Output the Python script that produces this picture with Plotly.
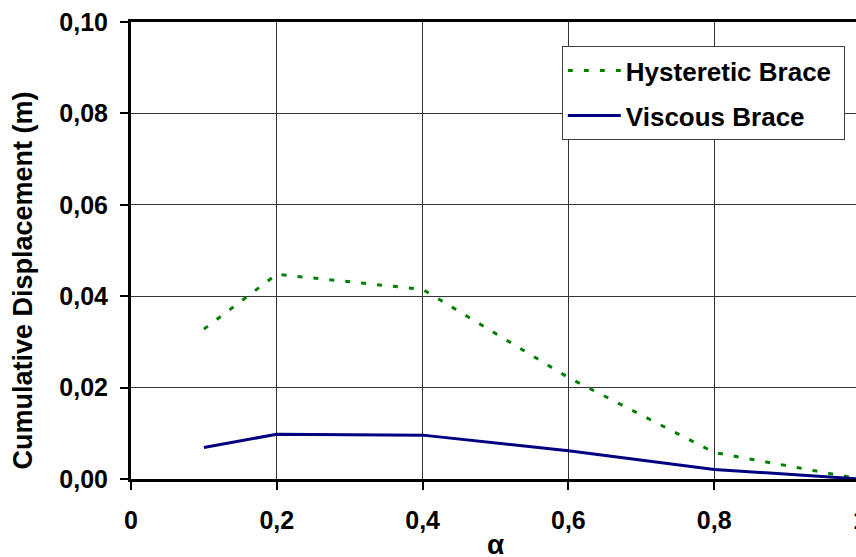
import plotly.graph_objects as go

alpha = [0.1, 0.2, 0.4, 0.6, 0.8, 1.0]
hysteretic = [0.0328, 0.0448, 0.0415, 0.0222, 0.0058, 0.0]
viscous = [0.0069, 0.0098, 0.0096, 0.0062, 0.0021, 0.0]

FONT = "Liberation Sans, Arial, sans-serif"

fig = go.Figure()
fig.add_trace(go.Scatter(
    x=alpha, y=hysteretic, mode="lines", name="Hysteretic Brace\u00a0",
    legendgroup="h",
    line=dict(color="#008000", width=3, dash="5px,11px"),
))
fig.add_trace(go.Scatter(
    x=alpha, y=viscous, mode="lines", name="Viscous Brace",
    legendgroup="v",
    line=dict(color="#000080", width=3),
))

W, H = 880, 557
L, R, T, B = 131, 860, 22, 479
fig.update_layout(
    width=W, height=H,
    margin=dict(l=L, r=W - R, t=T, b=H - B, pad=0, autoexpand=False),
    paper_bgcolor="white", plot_bgcolor="white",
    separators=", ",
    font=dict(family=FONT, size=25, color="black", weight="bold"),
    showlegend=True,
    legend=dict(
        x=0.591, y=0.947, xanchor="left", yanchor="top",
        bgcolor="white", bordercolor="#404040", borderwidth=1,
        font=dict(family=FONT, size=26, color="black", weight="bold"),
        tracegroupgap=8, traceorder="grouped",
        itemwidth=53,
    ),
    xaxis=dict(
        range=[0, 1.0], tickmode="array",
        tickvals=[0, 0.2, 0.4, 0.6, 0.8, 1.0],
        ticktext=["0", "0,2", "0,4", "0,6", "0,8", "1"],
        showgrid=True, gridcolor="#333333", gridwidth=1,
        showline=True, linecolor="black", linewidth=3, mirror=True,
        ticks="outside", ticklen=8, tickwidth=2, tickcolor="black",
        zeroline=False, ticklabelstandoff=9, automargin=False,
    ),
    yaxis=dict(
        range=[0, 0.1], tickmode="array",
        tickvals=[0, 0.02, 0.04, 0.06, 0.08, 0.10],
        ticktext=["0,00", "0,02", "0,04", "0,06", "0,08", "0,10"],
        showgrid=True, gridcolor="#333333", gridwidth=1,
        showline=True, linecolor="black", linewidth=3, mirror=True,
        ticks="outside", ticklen=8, tickwidth=2, tickcolor="black",
        zeroline=False, ticklabelstandoff=7, automargin=False,
    ),
    annotations=[
        dict(
            text="Cumulative Displacement (m)", textangle=-90,
            xref="paper", yref="paper",
            x=(22 - L) / (R - L), y=(B - 280.5) / (B - T),
            xanchor="center", yanchor="middle", showarrow=False,
            font=dict(family=FONT, size=27, weight="bold", color="black"),
        ),
        dict(
            text="α",
            xref="paper", yref="paper",
            x=(495 - L) / (R - L), y=(B - 544) / (B - T),
            xanchor="center", yanchor="middle", showarrow=False,
            font=dict(family=FONT, size=28, weight="bold", color="black"),
        ),
    ],
)

fig.write_html(
    "out.html",
    config={"displayModeBar": False},
    post_script="document.body.style.margin='0';document.body.style.overflow='hidden';document.documentElement.style.overflow='hidden';",
)
